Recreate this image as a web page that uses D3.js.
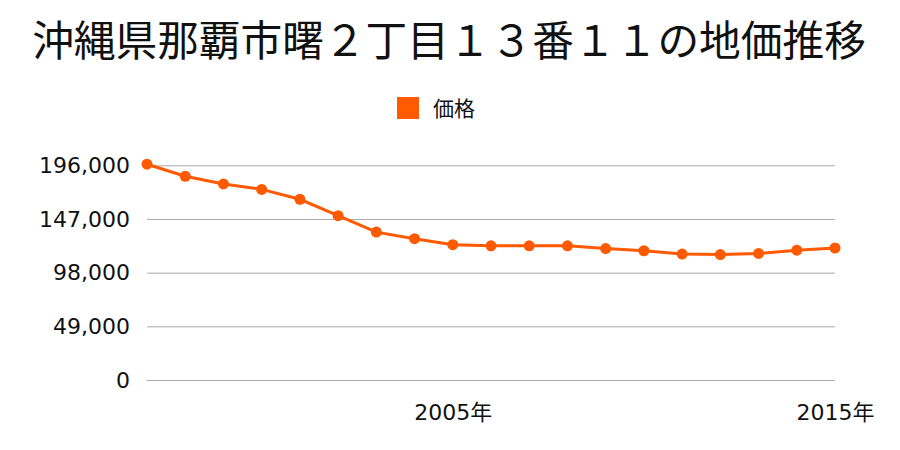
<!DOCTYPE html>
<html><head><meta charset="utf-8">
<script src="https://cdn.jsdelivr.net/npm/d3@7"></script>
<style>body{margin:0;background:#fff}svg{display:block}</style>
</head><body>
<svg id="c" width="900" height="450"></svg>
<script>
const title = "沖縄県那覇市曙２丁目１３番１１の地価推移";
const seriesName = "価格";
const years = [1997,1998,1999,2000,2001,2002,2003,2004,2005,2006,2007,2008,2009,2010,2011,2012,2013,2014,2015];
const prices = [197000,186000,179000,174000,165000,150000,135000,129000,123500,122500,122500,122500,120000,118000,115000,114500,115500,118500,120500];
const yTicks = [0,49000,98000,147000,196000];
const xTickYears = [2005,2015];

const svg = d3.select("#c");
const x = d3.scaleLinear().domain([1997,2015]).range([147,835]);
const y = d3.scaleLinear().domain([0,196000]).range([380,165.3]);
const color = "#ff5a00";
const cjk = "'Noto Sans CJK JP', sans-serif";
const num = "'DejaVu Sans', 'Noto Sans CJK JP', sans-serif";

svg.append("text").attr("x",449).attr("y",56).attr("text-anchor","middle")
  .attr("font-family",cjk).attr("font-size",41.7).attr("fill","#111").text(title);

svg.append("rect").attr("x",397).attr("y",97).attr("width",22).attr("height",22).attr("fill",color);
svg.append("text").attr("x",433).attr("y",116).attr("font-family",cjk).attr("font-size",21)
  .attr("fill","#111").text(seriesName);

// grid
const yAxis = d3.axisLeft(y).tickValues(yTicks).tickSize(-(835-147)).tickPadding(17)
  .tickFormat(d3.format(","));
const gy = svg.append("g").attr("transform","translate(147,0)").call(yAxis);
gy.select(".domain").remove();
gy.selectAll(".tick line").attr("stroke","#aaa").attr("stroke-width",1);
gy.selectAll(".tick text").attr("font-family",num).attr("font-size",22).attr("fill","#111");

const xAxis = d3.axisBottom(x).tickValues(xTickYears).tickSize(0).tickPadding(24)
  .tickFormat(d => d + "年");
const gx = svg.append("g").attr("transform","translate(0,380)").call(xAxis);
gx.select(".domain").remove();
gx.selectAll(".tick text").attr("font-family",num).attr("font-size",22).attr("fill","#111");

const data = years.map((yr,i)=>({yr, v: prices[i]}));
svg.append("path").datum(data)
  .attr("fill","none").attr("stroke",color).attr("stroke-width",3)
  .attr("d", d3.line().x(d=>x(d.yr)).y(d=>y(d.v)));
svg.selectAll("circle.pt").data(data).enter().append("circle").attr("class","pt")
  .attr("cx",d=>x(d.yr)).attr("cy",d=>y(d.v)).attr("r",5.5).attr("fill",color);
</script>
</body></html>
